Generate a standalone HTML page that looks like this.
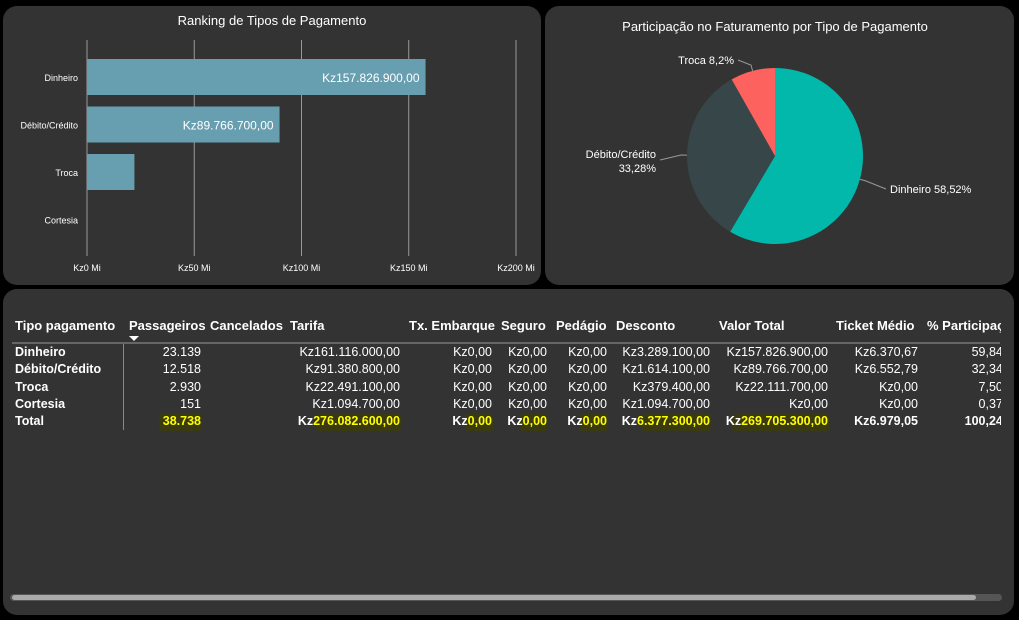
<!DOCTYPE html>
<html><head><meta charset="utf-8"><style>
body{margin:0;width:1019px;height:620px;background:#000;font-family:"Liberation Sans",sans-serif;overflow:hidden;position:relative}
.panel{position:absolute;background:#333;border-radius:14px}
.t{position:absolute;white-space:nowrap;color:#fff}
#tbl .t{font-size:12.5px;font-weight:bold}
.y{color:#ffff00 !important}
.hl{position:absolute;background:#3a3a12;border-radius:3px}
</style></head><body>
<div class="panel" style="left:3px;top:6px;width:538px;height:279px"></div>
<div class="panel" style="left:545px;top:6px;width:469px;height:279px"></div>
<div class="panel" style="left:3px;top:289px;width:1011px;height:326px"></div>

<svg id="bar" width="1019" height="620" style="position:absolute;left:0;top:0">
<text x="272" y="25" fill="#fff" font-size="13" text-anchor="middle" font-family="Liberation Sans">Ranking de Tipos de Pagamento</text>
</svg>
<svg id="pie" width="1019" height="620" style="position:absolute;left:0;top:0">
<text x="775" y="31" fill="#fff" font-size="13" text-anchor="middle" font-family="Liberation Sans">Participação no Faturamento por Tipo de Pagamento</text>
</svg>
<div id="tbl"></div>
<div style="position:absolute;left:12px;top:342px;width:988px;height:2px;background:#666"></div>
<div style="position:absolute;left:10px;top:594px;width:992px;height:7px;background:#555;border-radius:4px"></div>
<div style="position:absolute;left:12px;top:595px;width:964px;height:5px;background:#aaa;border-radius:3px"></div>
<script>
const categories=["Dinheiro","Débito/Crédito","Troca","Cortesia"];
const barValues=[157.8269,89.7667,22.1117,0];
const barLabels=["Kz157.826.900,00","Kz89.766.700,00","","" ];
const xTicks=[0,50,100,150,200];
const pieLabels=["Dinheiro","Débito/Crédito","Troca"];
const pieValues=[58.52,33.28,8.2];
const pieColors=["#01b8aa","#374649","#fd625e"];
const NS="http://www.w3.org/2000/svg";
function mk(p,tag,a){const e=document.createElementNS(NS,tag);for(const k in a)e.setAttribute(k,a[k]);p.appendChild(e);return e;}
const bar=document.getElementById('bar');
const x=v=>87+v*(516-87)/200;
const yb=i=>59+i*47.5;
xTicks.forEach(v=>{
 const l=mk(bar,'line',{x1:x(v),x2:x(v),y1:40,y2:256,stroke:'#999','stroke-width':1});
 
 
 const t=mk(bar,'text',{x:x(v),y:271,fill:'#fff','font-size':9,'text-anchor':'middle','font-family':'Liberation Sans'});
 t.textContent='Kz'+v+' Mi';
 
 
});
categories.forEach((c,i)=>{
 const r=mk(bar,'rect',{x:87,y:yb(i),width:Math.max(0,x(barValues[i])-87),height:36,fill:'#679fb0'});
 
 
 const t=mk(bar,'text',{x:78,y:yb(i)+22,fill:'#fff','font-size':9,'text-anchor':'end','font-family':'Liberation Sans'});
 t.textContent=c;
 
 
 if(barLabels[i]){const d=mk(bar,'text',{x:x(barValues[i])-6,y:yb(i)+23,fill:'#fff','font-size':12,'text-anchor':'end','font-family':'Liberation Sans'});
 d.textContent=barLabels[i];
 
 }
});
const pie=document.getElementById('pie');
const cx=775,cy=156,R=88;
const tot=pieValues.reduce((a,b)=>a+b,0);
let a0=0;
const lab=[[890,193,'start','Dinheiro 58,52%'],[656,172,'end','Débito/Crédito|33,28%'],[734,64,'end','Troca 8,2%']];
pieValues.forEach((v,i)=>{
 const a1=a0+v/tot*2*Math.PI;
 const p=(a)=>[cx+R*Math.sin(a),cy-R*Math.cos(a)];
 const [x0,y0]=p(a0),[x1,y1]=p(a1);
 const s=mk(pie,'path',{d:`M${cx},${cy}L${x0},${y0}A${R},${R} 0 ${a1-a0>Math.PI?1:0} 1 ${x1},${y1}Z`,fill:pieColors[i]});
 
 
 const am=(a0+a1)/2,[ex,ey]=[cx+(R+6)*Math.sin(am),cy-(R+6)*Math.cos(am)];
 const L=lab[i];
 const parts=L[3].split('|');
 const ly=parts.length>1?L[1]-12:L[1]-4;
 const ln=mk(pie,'polyline',{points:`${cx+R*Math.sin(am)},${cy-R*Math.cos(am)} ${ex},${ey} ${L[0]+(L[2]=='start'?-4:4)},${ly}`,fill:'none',stroke:'#999'});
 
 
 parts.forEach((tx,k)=>{const t=mk(pie,'text',{x:L[0],y:L[1]-(parts.length-1)*14+k*14,fill:'#fff','font-size':11,'text-anchor':L[2],'font-family':'Liberation Sans'});
 t.textContent=tx;
 
 });
 a0=a1;
});
// table
const tbl=document.getElementById('tbl');
const heads=[["Tipo pagamento",15],["Passageiros",129],["Cancelados",210],["Tarifa",290],["Tx. Embarque",409],["Seguro",501],["Pedágio",556],["Desconto",616],["Valor Total",719],["Ticket Médio",836],["% Participação",927]];
const rights=[0,201,0,400,492,547,607,710,828,918,1014];
const rows=[
["Dinheiro","23.139","","Kz161.116.000,00","Kz0,00","Kz0,00","Kz0,00","Kz3.289.100,00","Kz157.826.900,00","Kz6.370,67","59,84%"],
["Débito/Crédito","12.518","","Kz91.380.800,00","Kz0,00","Kz0,00","Kz0,00","Kz1.614.100,00","Kz89.766.700,00","Kz6.552,79","32,34%"],
["Troca","2.930","","Kz22.491.100,00","Kz0,00","Kz0,00","Kz0,00","Kz379.400,00","Kz22.111.700,00","Kz0,00","7,50%"],
["Cortesia","151","","Kz1.094.700,00","Kz0,00","Kz0,00","Kz0,00","Kz1.094.700,00","Kz0,00","Kz0,00","0,37%"],
["Total","38.738","","Kz|276.082.600,00","Kz|0,00","Kz|0,00","Kz|0,00","Kz|6.377.300,00","Kz|269.705.300,00","Kz6.979,05","100,24%"]];
const clip=document.createElement('div');
clip.style.cssText='position:absolute;left:0;top:0;width:1001px;height:620px;overflow:hidden';


tbl.appendChild(clip);
function cell(txt,l,top,right,cls){const d=document.createElement('div');d.className='t '+(cls||'');
 if(right){d.style.right=(1001-right)+'px';}else d.style.left=l+'px';
 d.style.top=top+'px';
 if(txt.includes('|')){const [a,b]=txt.split('|');d.innerHTML=a+'<span class="y">'+b+'</span>';}else d.textContent=txt;
 clip.appendChild(d);return d;}
heads.forEach((h,i)=>{const d=cell(h[0],h[1],318,0,'');
 d.style.fontSize='13px';
 
 });
const sa=document.createElement('div');sa.style.cssText='position:absolute;left:129px;top:336px;width:0;height:0;border-left:5px solid transparent;border-right:5px solid transparent;border-top:5px solid #fff';


clip.appendChild(sa);
const hls=[[159,414,43],[316,414,85],[465,414,28],[520,414,27],[580,414,28],[642,414,69],[732,414,97]];
hls.forEach(h=>{const d=document.createElement('div');d.className='hl';d.style.cssText=`left:${h[0]}px;top:${h[1]}px;width:${h[2]}px;height:17px`;
 
 
 clip.insertBefore(d,clip.firstChild);});
rows.forEach((r,ri)=>{const top=345+ri*17.3;
 r.forEach((v,ci)=>{if(!v)return;const d=cell(v,15,top,ci?rights[ci]:0,(ri==4&&ci==1)?'y':'');
 if(ri<4&&ci>0)d.style.fontWeight='normal';
 
 });});
const vl=document.createElement('div');vl.style.cssText='position:absolute;left:123px;top:344px;width:1px;height:86px;background:#888';


clip.appendChild(vl);
</script>
</body></html>
